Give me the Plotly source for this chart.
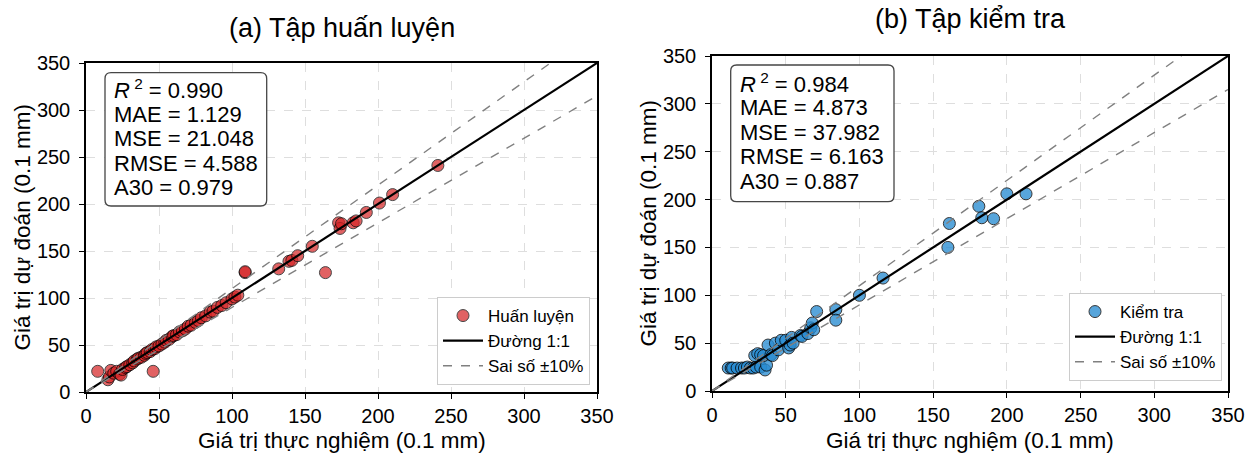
import plotly.graph_objects as go

# ---------------- data ----------------
train_actual = [8, 15, 16, 17, 19, 21, 23, 24, 25, 27, 28, 30, 32, 33, 35, 36, 38, 40, 41, 42,
                44, 45, 46, 47, 48, 50, 52, 54, 55, 57, 59, 60, 62, 64, 66, 68, 70, 72, 75, 77,
                79, 82, 85, 87, 90, 93, 96, 100, 102, 104, 109, 109, 132, 139, 141, 145, 155,
                164, 173, 174, 175, 183, 185, 192, 201, 210, 241]
train_pred = [22, 13, 16, 23, 20, 22, 19, 18, 24, 26, 27, 29, 31, 33, 35, 36, 37, 39, 41, 42,
              43, 45, 22, 46, 48, 49, 51, 53, 55, 56, 59, 60, 61, 64, 65, 67, 70, 71, 74, 76,
              79, 81, 85, 86, 90, 92, 95, 99, 101, 103, 127, 128, 131, 139, 140, 145, 155,
              127, 180, 174, 179, 180, 182, 191, 201, 210, 241]

test_actual = [11, 13, 14, 17, 20, 22, 24, 26, 28, 30, 33, 36, 37, 29, 31, 33, 35, 38, 40, 41,
               43, 45, 47, 50, 52, 53, 54, 55, 60, 61, 65, 67, 68, 69, 71, 84, 84, 100, 116,
               160, 161, 181, 183, 191, 200, 213]
test_pred = [24, 24, 24, 24, 24, 24, 25, 24, 24, 25, 25, 22, 27, 37, 39, 38, 37, 48, 38, 37,
             50, 43, 53, 53, 45, 48, 56, 50, 58, 57, 60, 66, 71, 64, 83, 85, 74, 100, 118,
             150, 175, 193, 181, 180, 206, 206]

line_x = [0, 350]
upper_factor = 1.1
lower_factor = 0.9

axis_ticks = [0, 50, 100, 150, 200, 250, 300, 350]

train_metrics = ["<i>R</i><sup> 2</sup> = 0.990", "MAE = 1.129", "MSE = 21.048",
                 "RMSE = 4.588", "A30 = 0.979"]
test_metrics = ["<i>R</i><sup> 2</sup> = 0.984", "MAE = 4.873", "MSE = 37.982",
                "RMSE = 6.163", "A30 = 0.887"]

titles = ["(a) Tập huấn luyện", "(b) Tập kiểm tra"]
xlabel = "Giá trị thực nghiệm (0.1 mm)"
ylabel = "Giá trị dự đoán (0.1 mm)"

# ---------------- layout helpers ----------------
W, H = 1259, 455
FONT = "Arial, Liberation Sans, sans-serif"


def px(xp):
    return xp / W


def py(yp):
    return 1 - yp / H


def rounded_rect(x0, y0, x1, y1, r):
    X = lambda v: f"{px(v):.5f}"
    Y = lambda v: f"{py(v):.5f}"
    return (f"M {X(x0 + r)},{Y(y0)} L {X(x1 - r)},{Y(y0)} Q {X(x1)},{Y(y0)} {X(x1)},{Y(y0 + r)} "
            f"L {X(x1)},{Y(y1 - r)} Q {X(x1)},{Y(y1)} {X(x1 - r)},{Y(y1)} "
            f"L {X(x0 + r)},{Y(y1)} Q {X(x0)},{Y(y1)} {X(x0)},{Y(y1 - r)} "
            f"L {X(x0)},{Y(y0 + r)} Q {X(x0)},{Y(y0)} {X(x0 + r)},{Y(y0)} Z")


panels = [
    dict(xd=(86, 597), yd=(63, 392), xs=train_actual, ys=train_pred, name="Huấn luyện",
         color="rgb(214,39,40)", opacity=0.72, metrics=train_metrics,
         box=(105, 72.7, 266.7, 206), text_x=112, text_y0=89.5, title_y=27.6,
         leg=(590, 385), ylab_x=22),
    dict(xd=(712, 1228), yd=(56, 391), xs=test_actual, ys=test_pred, name="Kiểm tra",
         color="rgb(41,140,210)", opacity=0.78, metrics=test_metrics,
         box=(730.7, 65, 894, 201.7), text_x=737.7, text_y0=83.0, title_y=19.2,
         leg=(1222, 381), ylab_x=648),
]

fig = go.Figure()
annotations = []
shapes = []

for i, p in enumerate(panels):
    sfx = "" if i == 0 else "2"
    xa, ya = "x" + sfx, "y" + sfx
    leg = "legend" + sfx

    fig.add_trace(go.Scatter(
        x=p["xs"], y=p["ys"], mode="markers", name=p["name"], xaxis=xa, yaxis=ya,
        legend=leg, legendrank=1,
        marker=dict(size=12, color=p["color"], opacity=p["opacity"],
                    line=dict(color="black", width=1))))
    fig.add_trace(go.Scatter(
        x=line_x, y=line_x, mode="lines", name="Đường 1:1", xaxis=xa, yaxis=ya,
        legend=leg, legendrank=2, line=dict(color="black", width=2.2)))
    fig.add_trace(go.Scatter(
        x=line_x, y=[v * upper_factor for v in line_x], mode="lines", name="Sai số ±10%",
        xaxis=xa, yaxis=ya, legend=leg, legendrank=3,
        line=dict(color="rgb(128,128,128)", width=1.4, dash="dash")))
    fig.add_trace(go.Scatter(
        x=line_x, y=[v * lower_factor for v in line_x], mode="lines", name="Sai số ±10%",
        xaxis=xa, yaxis=ya, legend=leg, showlegend=False,
        line=dict(color="rgb(128,128,128)", width=1.4, dash="dash")))

    axis_common = dict(range=[0, 350], tickvals=axis_ticks, showline=True, linecolor="black",
                       linewidth=1.5, mirror=True, ticks="outside", ticklen=5, tickwidth=1.2,
                       tickcolor="black", showgrid=True, gridcolor="rgb(222,222,222)",
                       griddash="dash", gridwidth=1, zeroline=False, automargin=False,
                       tickfont=dict(family=FONT, size=20, color="black"))
    fig.update_layout(**{
        "xaxis" + sfx: dict(domain=[px(p["xd"][0]), px(p["xd"][1])], anchor=ya,
                            ticklabelstandoff=0, **axis_common),
        "yaxis" + sfx: dict(domain=[py(p["yd"][1]), py(p["yd"][0])], anchor=xa,
                            ticklabelstandoff=5, **axis_common),
        leg: dict(x=px(p["leg"][0]), y=py(p["leg"][1]), xanchor="right", yanchor="bottom",
                  bgcolor="white", bordercolor="rgb(204,204,204)", borderwidth=1,
                  font=dict(family=FONT, size=17, color="black"), itemwidth=40,
                  tracegroupgap=0),
    })

    # metrics box
    bx = p["box"]
    shapes.append(dict(type="path", xref="paper", yref="paper",
                       path=rounded_rect(bx[0], bx[1], bx[2], bx[3], 6),
                       fillcolor="white", line=dict(color="rgb(70,70,70)", width=1.3),
                       layer="above"))
    for k, line in enumerate(p["metrics"]):
        annotations.append(dict(xref="paper", yref="paper", x=px(p["text_x"]),
                                y=py(p["text_y0"] + 24.6 * k), xanchor="left",
                                yanchor="middle", showarrow=False, text=line,
                                font=dict(family=FONT, size=22, color="black")))
    # title
    cx = (p["xd"][0] + p["xd"][1]) / 2
    annotations.append(dict(xref="paper", yref="paper", x=px(cx), y=py(p["title_y"]),
                            xanchor="center", yanchor="middle", showarrow=False,
                            text=titles[i], font=dict(family=FONT, size=27, color="black")))
    # axis labels
    annotations.append(dict(xref="paper", yref="paper", x=px(cx), y=py(440),
                            xanchor="center", yanchor="middle", showarrow=False,
                            text=xlabel, font=dict(family=FONT, size=22.5, color="black")))
    cy = (p["yd"][0] + p["yd"][1]) / 2
    annotations.append(dict(xref="paper", yref="paper", x=px(p["ylab_x"]), y=py(cy),
                            xanchor="center", yanchor="middle", showarrow=False,
                            textangle=-90, text=ylabel,
                            font=dict(family=FONT, size=22.5, color="black")))

fig.update_layout(width=W, height=H,
                  margin=dict(l=0, r=0, t=0, b=0, pad=0, autoexpand=False),
                  paper_bgcolor="white", plot_bgcolor="white",
                  annotations=annotations, shapes=shapes,
                  font=dict(family=FONT, color="black"))

fig.write_html("out.html")
